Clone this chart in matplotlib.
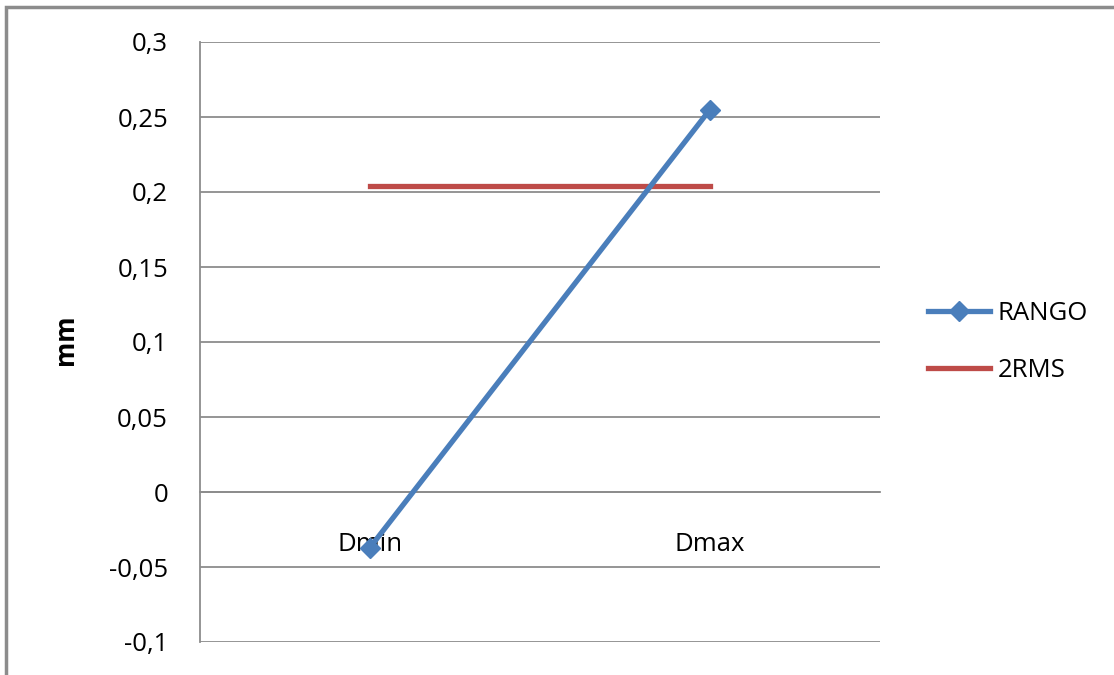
import matplotlib
matplotlib.use("Agg")
import matplotlib.pyplot as plt
from matplotlib.patches import Rectangle
from matplotlib.ticker import FuncFormatter

categories = ["Dmin", "Dmax"]
rango = [-0.037, 0.255]
rms2 = [0.204, 0.204]
yticks = [-0.1, -0.05, 0, 0.05, 0.1, 0.15, 0.2, 0.25, 0.3]

plt.rcParams['font.family'] = ['Open Sans', 'DejaVu Sans']
W, H = 1114, 675
fig = plt.figure(figsize=(W/100, H/100), dpi=100)
fig.patch.set_facecolor('white')

# outer chart frame
fig.patches.append(Rectangle((6/W, -0.1), 1.2, (H-7)/H + 0.1, transform=fig.transFigure,
                             fill=False, edgecolor='#8c8c8c', linewidth=2.5))

ax = fig.add_axes([200/W, 1-642/H, 680/W, 600/H])
x = [0.5, 1.5]
grid_c = '#8c8c8c'
fs = 18.5
ax.set_xlim(0, 2)
ax.set_ylim(-0.1, 0.3)
ax.set_yticks(yticks)
ax.yaxis.set_major_formatter(FuncFormatter(lambda v, p: ('%g' % round(v, 3)).replace('.', ',')))
ax.grid(axis='y', color=grid_c, linewidth=1.3)
ax.set_axisbelow(True)
for s in ['top', 'right']:
    ax.spines[s].set_visible(False)
ax.spines['left'].set_color(grid_c)
ax.spines['left'].set_linewidth(1.3)
ax.spines['bottom'].set_position(('data', 0))
ax.spines['bottom'].set_color(grid_c)
ax.spines['bottom'].set_linewidth(1.3)
ax.tick_params(axis='y', length=0, pad=23, labelsize=fs, colors='black')
ax.tick_params(axis='x', length=0, pad=29, labelsize=fs)
ax.set_xticks(x)
ax.set_xticklabels(categories)

l1, = ax.plot(x, rango, color='#4A7EBB', linewidth=3.8, marker='D', markersize=10,
              label='RANGO', zorder=3)
l2, = ax.plot(x, rms2, color='#BE4B48', linewidth=3.8, label='2RMS', zorder=2)

ax.set_ylabel('mm', fontsize=fs, fontweight='bold')
ax.yaxis.set_label_coords(-121/680, 1 - (340-42)/600)

fig.legend(handles=[l1, l2], loc='center left', bbox_to_anchor=(918/W, 1-342/H),
           frameon=False, fontsize=fs, handlelength=2.4, handletextpad=0.3,
           labelspacing=1.25, borderaxespad=0)

fig.savefig('out.png', dpi=100)
